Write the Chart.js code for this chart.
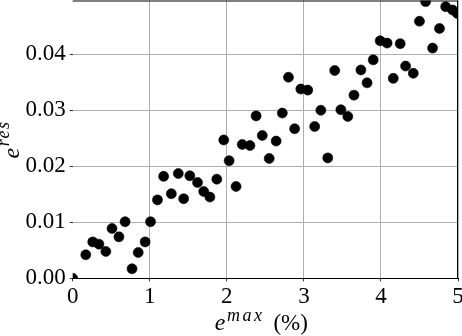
<!DOCTYPE html>
<html>
<head>
<meta charset="utf-8">
<script src="https://cdn.jsdelivr.net/npm/chart.js@4/dist/chart.umd.min.js"></script>
<style>
html,body{margin:0;padding:0;background:#fff;}
#wrap{width:462px;height:336px;position:relative;}
</style>
</head>
<body>
<div id="wrap"><canvas id="c" width="462" height="336"></canvas></div>
<script>
// e^max (%) values
const xValues = [0, 0.17, 0.26, 0.34, 0.43, 0.51, 0.60, 0.68, 0.77, 0.85, 0.94, 1.01, 1.10, 1.18, 1.28, 1.37, 1.44, 1.52, 1.62, 1.70, 1.78, 1.87, 1.96, 2.03, 2.12, 2.20, 2.30, 2.38, 2.46, 2.55, 2.64, 2.72, 2.80, 2.88, 2.96, 3.05, 3.14, 3.22, 3.31, 3.40, 3.48, 3.57, 3.65, 3.74, 3.82, 3.90, 3.99, 4.08, 4.16, 4.25, 4.32, 4.42, 4.50, 4.58, 4.67, 4.76, 4.84, 4.93, 4.99];
// e^res values
const yValues = [0, 0.0042, 0.0065, 0.0061, 0.0048, 0.0089, 0.0074, 0.0101, 0.0017, 0.0046, 0.0065, 0.0101, 0.0140, 0.0182, 0.0151, 0.0187, 0.0142, 0.0183, 0.0171, 0.0155, 0.0145, 0.0177, 0.0247, 0.0210, 0.0164, 0.0239, 0.0237, 0.0290, 0.0255, 0.0214, 0.0245, 0.0295, 0.0359, 0.0267, 0.0338, 0.0336, 0.0271, 0.0300, 0.0215, 0.0371, 0.0301, 0.0289, 0.0327, 0.0372, 0.0349, 0.0390, 0.0424, 0.0420, 0.0357, 0.0419, 0.0379, 0.0366, 0.0459, 0.0494, 0.0411, 0.0446, 0.0485, 0.0479, 0.0473];
const xTicks = [0, 1, 2, 3, 4, 5];
const xTickLabels = ['0', '1', '2', '3', '4', '5'];
const yTicks = [0, 0.01, 0.02, 0.03, 0.04];
const yTickLabels = ['0.00', '0.01', '0.02', '0.03', '0.04'];
const xRange = [0, 5];
const yRange = [0, 0.0496];

const points = xValues.map((x, i) => ({x: x, y: yValues[i]}));

const FONT = '"Liberation Serif", "DejaVu Serif", serif';

const framePlugin = {
  id: 'frame',
  afterDatasetsDraw(chart) {
    const {ctx, chartArea: a} = chart;
    ctx.save();
    ctx.strokeStyle = '#000';
    ctx.lineWidth = 1;
    ctx.beginPath();
    ctx.moveTo(a.left, a.top + 0.5);
    ctx.lineTo(a.right, a.top + 0.5);
    ctx.moveTo(Math.round(a.right) - 0.5, a.top);
    ctx.lineTo(Math.round(a.right) - 0.5, a.bottom);
    ctx.stroke();
    ctx.restore();
  },
  afterDraw(chart) {
    const {ctx, chartArea: a} = chart;
    ctx.save();
    ctx.fillStyle = '#000';
    ctx.textBaseline = 'alphabetic';
    // X title: e^{max} (%)
    const big = 'italic 24px ' + FONT;
    const sup = 'italic 18px ' + FONT;
    const reg = '23px ' + FONT;
    ctx.font = big; const wE = ctx.measureText('e').width;
    ctx.font = sup; ctx.letterSpacing = '2.5px'; const wM = ctx.measureText('max').width; ctx.letterSpacing = '0px';
    ctx.font = reg; const wP = ctx.measureText('(%)').width;
    const gap1 = 1.5, gap2 = 9;
    const total = wE + gap1 + wM + gap2 + wP;
    let x0 = (a.left + a.right) / 2 - 4 - total / 2;
    const base = 330;
    ctx.font = big; ctx.fillText('e', x0, base);
    x0 += wE + gap1;
    ctx.font = sup; ctx.letterSpacing = '2.5px'; ctx.fillText('max', x0, base - 9); ctx.letterSpacing = '0px';
    x0 += wM + gap2;
    ctx.font = reg; ctx.fillText('(%)', x0, base);

    // Y title: e^{res}
    ctx.translate(18.5, (a.top + a.bottom) / 2);
    ctx.rotate(-Math.PI / 2);
    ctx.font = big;
    const lx = -19;
    ctx.fillText('e', lx, 0);
    const wE2 = ctx.measureText('e').width;
    ctx.font = sup; ctx.letterSpacing = '1.5px';
    ctx.fillText('res', lx + wE2 + 1.5, -9.5);
    ctx.restore();
  }
};

new Chart(document.getElementById('c'), {
  type: 'scatter',
  data: {
    datasets: [{
      data: points,
      backgroundColor: '#000',
      borderColor: '#000',
      borderWidth: 0.6,
      pointRadius: 5,
      pointHoverRadius: 5,
      clip: 0
    }]
  },
  options: {
    responsive: false,
    animation: false,
    events: [],
    layout: {autoPadding: false, padding: {top: 0.5, right: 4, left: 0, bottom: 0}},
    plugins: {legend: {display: false}, tooltip: {enabled: false}},
    scales: {
      x: {
        type: 'linear',
        min: xRange[0],
        max: xRange[1],
        afterBuildTicks: (s) => { s.ticks = xTicks.map(v => ({value: v})); },
        afterFit: (s) => { s.height = 336 - 278.3; s.paddingLeft = 0; s.paddingRight = 0; },
        ticks: {
          color: '#000',
          font: {family: FONT, size: 23},
          padding: 2,
          maxRotation: 0,
          autoSkip: false,
          callback: (v) => { const i = xTicks.indexOf(v); return i >= 0 ? xTickLabels[i] : ''; }
        },
        grid: {
          color: (c) => (c.tick && c.tick.value === 0) ? 'rgba(0,0,0,0)' : '#b0b0b0',
          lineWidth: 1,
          tickLength: 3,
          tickColor: '#333',
          drawTicks: true
        },
        border: {display: true, color: '#000', width: 1}
      },
      y: {
        type: 'linear',
        min: yRange[0],
        max: yRange[1],
        afterBuildTicks: (s) => { s.ticks = yTicks.map(v => ({value: v})); },
        afterFit: (s) => { s.width = 72.7; s.paddingTop = 0; s.paddingBottom = 0; },
        ticks: {
          color: '#000',
          font: {family: FONT, size: 23},
          padding: 4,
          autoSkip: false,
          callback: (v) => { const i = yTicks.findIndex(t => Math.abs(t - v) < 1e-9); return i >= 0 ? yTickLabels[i] : ''; }
        },
        grid: {
          color: '#b0b0b0',
          lineWidth: 1,
          tickLength: 3,
          tickColor: '#333',
          drawTicks: true
        },
        border: {display: false}
      }
    }
  },
  plugins: [framePlugin]
});
</script>
</body>
</html>
